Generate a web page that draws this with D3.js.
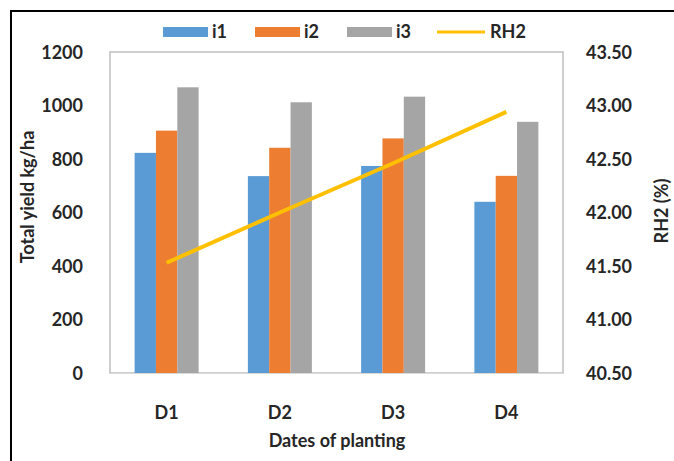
<!DOCTYPE html>
<html>
<head>
<meta charset="utf-8">
<script src="https://cdn.jsdelivr.net/npm/d3@7"></script>
<style>
  html, body { margin: 0; padding: 0; background: #fff; }
  svg { display: block; }
  text { font-family: Lato, "Open Sans", sans-serif; font-weight: 700; fill: #262626; }
</style>
</head>
<body>
<svg id="chart" width="674" height="461"></svg>
<script>
// Planting dates and yield per irrigation level
const dates = ["D1", "D2", "D3", "D4"];
const seriesNames = ["i1", "i2", "i3"];
const i1 = [823, 736, 774, 640];
const i2 = [906, 842, 877, 737];
const i3 = [1068, 1012, 1033, 939];
const rh2 = [41.53, 42.0, 42.46, 42.94];
const yieldTicks = [0, 200, 400, 600, 800, 1000, 1200];
const rhTicks = [40.5, 41.0, 41.5, 42.0, 42.5, 43.0, 43.5];
const colors = { i1: "#5B9BD5", i2: "#ED7D31", i3: "#A5A5A5", RH2: "#FFC000" };

const svg = d3.select("#chart");
const plot = { left: 110, right: 563, top: 52, bottom: 373 };
const fs = "18px";

// Frame around the figure
svg.append("path")
  .attr("d", "M11,461 L11,11 L674,11")
  .attr("fill", "none").attr("stroke", "#000").attr("stroke-width", 2);

const x0 = d3.scaleBand().domain(dates).range([plot.left, plot.right]).paddingInner(0).paddingOuter(0);
const x1 = d3.scaleBand().domain(seriesNames).range([0, 64]);
const groupOffset = (x0.bandwidth() - 64) / 2;
const yL = d3.scaleLinear().domain([0, 1200]).range([plot.bottom, plot.top]);
const yR = d3.scaleLinear().domain([40.5, 43.5]).range([plot.bottom, plot.top]);

// Plot area border
svg.append("rect")
  .attr("x", plot.left).attr("y", plot.top)
  .attr("width", plot.right - plot.left).attr("height", plot.bottom - plot.top)
  .attr("fill", "none").attr("stroke", "#bfbfbf").attr("stroke-width", 1.5);

// Bars
const data = { i1, i2, i3 };
seriesNames.forEach(s => {
  svg.append("g").selectAll("rect")
    .data(dates.map((d, i) => ({ d, v: data[s][i] })))
    .join("rect")
    .attr("x", e => x0(e.d) + groupOffset + x1(s))
    .attr("y", e => yL(e.v))
    .attr("width", x1.bandwidth())
    .attr("height", e => plot.bottom - yL(e.v))
    .attr("fill", colors[s]);
});

// Left axis
const axL = svg.append("g").attr("transform", `translate(${plot.left - 27},0)`)
  .call(d3.axisLeft(yL).tickValues(yieldTicks).tickFormat(d3.format("d")).tickSize(0).tickPadding(0));
axL.select(".domain").remove();
axL.selectAll("text").style("font-size", fs).attr("dy", "0.35em");

// Right axis
const axR = svg.append("g").attr("transform", `translate(${plot.right + 23},0)`)
  .call(d3.axisRight(yR).tickValues(rhTicks).tickFormat(d3.format(".2f")).tickSize(0).tickPadding(0));
axR.select(".domain").remove();
axR.selectAll("text").style("font-size", fs).attr("dy", "0.35em");

// Bottom axis
const axB = svg.append("g").attr("transform", `translate(0,${plot.bottom})`)
  .call(d3.axisBottom(x0).tickSize(0).tickPadding(31));
axB.select(".domain").attr("stroke", "#d9d9d9");
axB.selectAll("text").style("font-size", fs).attr("dy", "0.35em").attr("y", 40);

// RH2 line
const line = d3.line().x((d, i) => x0(dates[i]) + x0.bandwidth() / 2).y(d => yR(d));
svg.append("path").datum(rh2)
  .attr("d", line).attr("fill", "none")
  .attr("stroke", colors.RH2).attr("stroke-width", 4);

// Axis titles
svg.append("text").attr("transform", "translate(28,197) rotate(-90)")
  .attr("text-anchor", "middle").attr("dy", "0.35em").style("font-size", fs)
  .text("Total yield kg/ha");
svg.append("text").attr("transform", "translate(662,211) rotate(-90)")
  .attr("text-anchor", "middle").attr("dy", "0.35em").style("font-size", fs)
  .text("RH2 (%)");
svg.append("text").attr("x", 337).attr("y", 441)
  .attr("text-anchor", "middle").attr("dy", "0.35em").style("font-size", fs)
  .text("Dates of planting");

// Legend
const legendItems = [
  { name: "i1", type: "bar", x: 163 },
  { name: "i2", type: "bar", x: 255 },
  { name: "i3", type: "bar", x: 347 },
  { name: "RH2", type: "line", x: 437 }
];
const lg = svg.append("g");
legendItems.forEach(it => {
  if (it.type === "bar") {
    lg.append("rect").attr("x", it.x).attr("y", 27).attr("width", 45).attr("height", 10)
      .attr("fill", colors[it.name]);
  } else {
    lg.append("line").attr("x1", it.x).attr("x2", it.x + 48).attr("y1", 32).attr("y2", 32)
      .attr("stroke", colors[it.name]).attr("stroke-width", 3);
  }
  lg.append("text").attr("x", it.x + (it.type === "bar" ? 49 : 53)).attr("y", 32)
    .attr("dy", "0.35em").style("font-size", fs).text(it.name);
});
</script>
</body>
</html>
